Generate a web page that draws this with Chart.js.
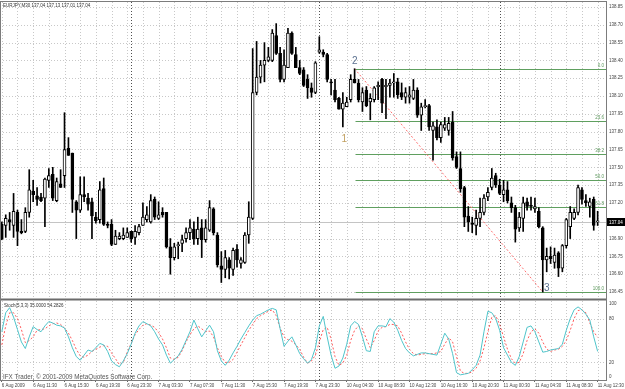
<!DOCTYPE html>
<html>
<head>
<meta charset="utf-8">
<script src="https://cdn.jsdelivr.net/npm/chart.js@4"></script>
<style>
  html, body { margin: 0; padding: 0; background: #fff; }
  #wrap { position: relative; width: 625px; height: 389px; overflow: hidden; }
  #price { position: absolute; left: 0; top: 0; }
  #stoch { position: absolute; left: 0; top: 298px; }
</style>
</head>
<body>
<div id="wrap">
  <canvas id="price" width="625" height="298"></canvas>
  <canvas id="stoch" width="625" height="91"></canvas>
</div>
<script>
// EURJPY M30 candles with a Fibonacci retracement and a Stochastic(5,3,3) pane.
// Bars are indexed 0..152 on a linear x axis so both panes line up.

const FONT = '"Liberation Sans", Arial, sans-serif';

const title = "EURJPY,M30 137.04 137.13 137.01 137.04";
const stochTitle = "Stoch(5,3,3) 35.0000 54.2826";
const copyright = "IFX Trader, \u00a9 2001-2009 MetaQuotes Software Corp.";

// x-axis labels, one every 8 bars
const timeLabels = [
  "6 Aug 2009", "6 Aug 11:30", "6 Aug 15:30", "6 Aug 19:30", "6 Aug 23:30",
  "7 Aug 03:30", "7 Aug 07:30", "7 Aug 11:30", "7 Aug 15:30", "7 Aug 19:30",
  "7 Aug 23:30", "10 Aug 04:30", "10 Aug 08:30", "10 Aug 12:30", "10 Aug 16:30",
  "10 Aug 20:30", "11 Aug 00:30", "11 Aug 04:30", "11 Aug 08:30", "11 Aug 12:30",
];

const opens = [
  137.02,137.01,137.06,137.01,137.12,136.96,136.96,137.12,137.30,137.26,
  137.25,137.24,137.39,137.44,137.22,137.36,137.43,137.66,137.62,137.21,
  137.14,137.27,137.24,137.21,137.08,137.06,137.32,137.02,137.02,136.85,
  136.90,136.90,136.91,136.96,136.91,136.95,137.01,137.06,137.04,137.23,
  137.07,137.12,137.12,136.83,136.74,136.84,136.86,136.90,136.95,136.98,
  136.90,136.99,136.89,136.97,137.15,136.93,136.67,136.64,136.72,136.64,
  136.81,136.69,136.70,136.93,137.07,138.13,138.26,138.36,138.40,138.40,
  138.61,138.46,138.24,138.34,138.63,138.45,138.34,138.32,138.24,138.17,
  138.13,138.47,138.47,138.45,138.22,138.15,138.08,137.99,138.01,138.07,
  138.24,138.21,138.05,138.15,138.05,138.07,138.18,138.24,138.18,138.19,
  138.21,138.22,138.13,138.09,138.09,138.08,138.15,137.94,138.01,138.02,
  137.81,137.84,137.75,137.83,137.81,137.88,137.59,137.49,137.33,137.09,
  137.03,137.01,137.07,137.12,137.25,137.33,137.43,137.35,137.27,137.31,
  137.20,137.16,136.99,137.07,137.21,137.18,137.15,137.13,136.99,136.72,
  136.75,136.70,136.78,136.65,136.84,137.00,137.07,137.12,137.31,137.22,
  137.17,137.23,137.04,
];
const highs = [
  137.04,137.10,137.12,137.28,137.14,137.06,137.16,137.48,137.39,137.33,
  137.28,137.41,137.49,137.50,137.41,137.48,137.96,137.75,137.62,137.22,
  137.42,137.42,137.28,137.24,137.12,137.38,137.41,137.04,137.06,136.97,
  136.95,136.99,136.99,136.96,137.01,137.02,137.20,137.17,137.27,137.25,
  137.21,137.16,137.12,136.90,136.86,136.87,136.93,136.99,137.06,137.04,
  137.08,137.06,137.06,137.22,137.16,136.95,136.79,136.80,136.74,136.82,
  136.85,136.74,136.95,137.21,138.50,138.56,138.40,138.55,138.51,138.66,
  138.71,138.51,138.49,138.67,138.64,138.51,138.40,138.34,138.28,138.21,
  138.39,138.60,138.49,138.46,138.24,138.24,138.09,138.13,138.09,138.28,
  138.33,138.24,138.17,138.18,138.12,138.18,138.22,138.25,138.24,138.24,
  138.29,138.25,138.21,138.17,138.18,138.24,138.17,138.04,138.07,138.03,
  137.88,137.90,137.88,137.92,137.92,137.97,137.63,137.63,137.34,137.17,
  137.08,137.14,137.24,137.27,137.33,137.49,137.45,137.40,137.39,137.38,
  137.25,137.18,137.12,137.25,137.24,137.25,137.24,137.16,137.00,136.82,
  136.83,136.82,136.79,136.85,137.07,137.17,137.15,137.35,137.33,137.27,
  137.24,137.25,137.13,
];
const lows = [
  136.89,136.91,136.97,136.91,136.84,136.94,136.95,137.08,137.21,137.18,
  137.21,137.00,137.33,137.22,137.21,137.33,137.33,137.60,137.12,136.90,
  137.12,137.21,137.14,136.90,137.03,137.03,137.01,136.99,136.84,136.85,
  136.89,136.89,136.91,136.87,136.85,136.93,137.01,137.04,137.03,137.06,
  137.06,137.08,136.82,136.60,136.72,136.73,136.79,136.87,136.89,136.85,
  136.85,136.74,136.87,136.96,136.93,136.66,136.53,136.57,136.56,136.59,
  136.66,136.65,136.69,136.86,137.06,138.11,138.21,138.22,138.39,138.39,
  138.45,138.22,138.22,138.34,138.45,138.34,138.28,138.18,138.08,138.09,
  138.12,138.46,138.43,138.22,138.11,138.05,137.99,137.84,138.01,138.05,
  138.21,138.05,137.97,138.01,137.90,138.05,138.07,137.96,137.91,138.09,
  138.09,138.08,138.07,138.04,138.04,138.07,137.92,137.81,138.00,137.81,
  137.56,137.73,137.71,137.81,137.77,137.56,137.49,137.29,137.00,136.96,
  136.95,136.93,137.00,137.10,137.22,137.31,137.33,137.27,137.21,137.20,
  137.12,136.87,136.96,136.96,137.14,137.14,137.12,136.99,136.45,136.62,
  136.69,136.65,136.58,136.62,136.82,136.90,137.06,137.10,137.19,137.17,
  137.08,136.97,137.01,
];
const closes = [
  136.90,137.07,137.04,137.13,136.96,136.95,137.12,137.31,137.27,137.23,
  137.22,137.40,137.43,137.24,137.38,137.33,137.65,137.60,137.23,137.14,
  137.27,137.25,137.19,137.09,137.05,137.31,137.02,137.01,136.85,136.92,
  136.92,136.93,136.95,136.90,136.96,137.00,137.08,137.10,137.22,137.08,
  137.10,137.10,136.83,136.74,136.83,136.85,136.89,136.95,136.99,136.90,
  136.98,136.89,136.99,137.16,136.95,136.68,136.64,136.74,136.65,136.80,
  136.72,136.72,136.93,137.08,138.13,138.26,138.36,138.40,138.43,138.63,
  138.46,138.24,138.36,138.63,138.46,138.34,138.29,138.19,138.17,138.13,
  138.38,138.49,138.45,138.24,138.21,138.07,137.99,138.04,138.05,138.24,
  138.21,138.07,138.13,138.02,138.08,138.17,138.19,138.04,138.19,138.21,
  138.22,138.11,138.09,138.13,138.11,138.15,137.94,138.01,138.02,137.84,
  137.85,137.75,137.86,137.86,137.87,137.58,137.50,137.32,137.08,137.04,
  137.02,137.07,137.12,137.24,137.29,137.41,137.35,137.28,137.31,137.22,
  137.16,136.98,137.08,137.20,137.17,137.17,137.17,137.00,136.72,136.75,
  136.73,136.76,136.65,136.84,137.06,137.12,137.12,137.33,137.23,137.20,
  137.21,137.01,137.04,
];

// Stochastic %K (main) and %D (signal)
const stochK = [
  62,88,95,82,65,48,39,55,69,65, 62,70,76,74,71,70,67,55,40,28,
  23,30,37,35,40,46,44,35,22,17, 14,22,32,45,60,70,76,73,70,62,
  52,44,30,19,24,29,38,50,62,78, 66,55,63,71,62,36,22,16,23,33,
  42,52,61,70,78,84,86,89,92,94, 92,66,42,49,55,44,32,25,19,24,
  40,70,83,55,30,12,15,26,45,70, 76,72,55,36,35,62,70,70,69,80,
  75,64,50,39,33,29,31,33,33,32, 31,30,45,60,52,32,6,3,4,5,
  10,16,30,62,90,88,80,64,40,30, 20,16,28,48,68,70,62,48,34,35,
  37,38,39,45,64,80,92,96,92,86, 78,55,35,
];
const stochD = [
  44,70,88,88,80,65,47,50,55,64, 65,66,70,73,74,72,67,60,50,38,
  29,27,30,35,38,41,43,42,33,25, 17,20,34,46,58,65,71,73,71,68,
  61,52,40,26,24,27,36,48,58,66, 70,66,62,63,55,40,28,20,20,24,
  34,44,54,64,72,80,84,87,90,92, 84,67,55,51,49,44,38,27,19,22,
  30,48,65,68,52,28,16,19,30,50, 64,70,66,52,40,50,63,68,69,72,
  72,70,60,48,38,32,30,31,32,32, 32,33,35,45,54,48,28,8,5,5,
  7,12,22,40,62,82,84,72,55,38, 25,19,20,32,50,62,66,60,48,38,
  35,37,38,42,50,64,80,91,92,88, 74,62,54.28,
];

const priceTicks = [136.45, 136.60, 136.75, 136.90, 137.20, 137.35, 137.50, 137.65,
  137.80, 137.95, 138.10, 138.25, 138.40, 138.55, 138.70, 138.85];
const stochTicks = [0, 20, 80, 100];
const stochGrid = [20, 80];
const separatorBars = [33, 81, 127];

const fibRatios = ["0.0", "23.6", "38.2", "50.0", "61.8", "100.0"];
const fibPrices = [138.33, 137.886, 137.612, 137.39, 137.168, 136.45];
const fibStartBar = 90;
const trendBars = [90, 138];
const trendPrices = [138.33, 136.45];
const waveLabels = ["1", "2", "3"];
const waveBars = [87, 90, 138];
const wavePrices = [137.84, 138.33, 136.45];
const lastPrice = 137.04;

const X_MIN = -0.46, X_MAX = 154.13;
const bars = opens.map((_, i) => i);

// dotted MT4 grid, day separators, price line and fibo levels, under the candles
const mt4Grid = {
  id: "mt4Grid",
  beforeDatasetsDraw(chart, args, opts) {
    const { ctx, chartArea: a, scales: { x, y } } = chart;
    const snap = (v) => Math.round(v) + 0.5;
    ctx.save();
    ctx.lineWidth = 1;
    ctx.strokeStyle = "#c8c8c8";
    ctx.setLineDash([1, 2]);
    ctx.beginPath();
    for (let b = 0; b <= 152; b += 4) {
      const px = snap(x.getPixelForValue(b));
      ctx.moveTo(px, a.top); ctx.lineTo(px, a.bottom);
    }
    opts.levels.forEach((v) => {
      const py = snap(y.getPixelForValue(v));
      ctx.moveTo(a.left, py); ctx.lineTo(a.right, py);
    });
    ctx.stroke();
    ctx.strokeStyle = "#505050";
    ctx.beginPath();
    separatorBars.forEach((b) => {
      const px = snap(x.getPixelForValue(b));
      ctx.moveTo(px, a.top); ctx.lineTo(px, a.bottom);
    });
    ctx.stroke();
    ctx.setLineDash([]);
    if (opts.fibo) {
      ctx.strokeStyle = "#c4c4c4";
      ctx.beginPath();
      const lp = snap(y.getPixelForValue(lastPrice));
      ctx.moveTo(a.left, lp); ctx.lineTo(a.right, lp);
      ctx.stroke();
      ctx.strokeStyle = "#5f9f5f";
      ctx.beginPath();
      const x0 = snap(x.getPixelForValue(fibStartBar));
      fibPrices.forEach((p) => {
        const py = snap(y.getPixelForValue(p));
        ctx.moveTo(x0, py); ctx.lineTo(a.right, py);
      });
      ctx.stroke();
    }
    ctx.restore();
  },
};

const priceOverlay = {
  id: "priceOverlay",
  afterDraw(chart) {
    const { ctx, chartArea: a, scales: { x, y } } = chart;
    ctx.save();
    ctx.strokeStyle = "#7c7c7c";
    ctx.lineWidth = 1;
    ctx.beginPath();
    ctx.moveTo(0, 1.5); ctx.lineTo(a.right + 1, 1.5);
    ctx.moveTo(0.5, 1); ctx.lineTo(0.5, chart.height);
    ctx.moveTo(a.right + 0.5, 1); ctx.lineTo(a.right + 0.5, chart.height);
    ctx.stroke();

    ctx.font = `4.5px ${FONT}`;
    ctx.fillStyle = "#333";
    ctx.fillText(title, 3, 7);

    ctx.textAlign = "right";
    ctx.fillStyle = "#5c985c";
    fibPrices.forEach((p, k) => ctx.fillText(fibRatios[k], a.right - 2, y.getPixelForValue(p) - 2));

    // wave labels: offsets (px) from the bar/price they mark
    const offs = [[-1.3, 15], [-2.6, -5], [1.2, -1]];
    const cols = ["#c2a060", "#5b7190", "#5b7190"];
    ctx.textAlign = "left";
    ctx.font = `10px ${FONT}`;
    waveLabels.forEach((t, k) => {
      ctx.fillStyle = cols[k];
      ctx.fillText(t, x.getPixelForValue(waveBars[k]) + offs[k][0], y.getPixelForValue(wavePrices[k]) + offs[k][1]);
    });

    const py = Math.round(y.getPixelForValue(lastPrice));
    ctx.fillStyle = "#000";
    ctx.fillRect(a.right + 1, py - 4, 19, 8);
    ctx.fillStyle = "#fff";
    ctx.font = `4.5px ${FONT}`;
    ctx.fillText(lastPrice.toFixed(2), a.right + 3, py + 2);
    ctx.restore();
  },
};

const stochOverlay = {
  id: "stochOverlay",
  afterDraw(chart) {
    const { ctx, chartArea: a } = chart;
    ctx.save();
    ctx.fillStyle = "#6c6c6c";
    ctx.fillRect(0, 0.5, a.right + 1, 2);
    ctx.strokeStyle = "#7c7c7c";
    ctx.lineWidth = 1;
    ctx.beginPath();
    ctx.moveTo(0.5, 0); ctx.lineTo(0.5, a.bottom);
    ctx.moveTo(a.right + 0.5, 0); ctx.lineTo(a.right + 0.5, a.bottom + 1);
    ctx.moveTo(0, a.bottom + 0.5); ctx.lineTo(a.right + 1, a.bottom + 0.5);
    ctx.stroke();
    ctx.font = `4.5px ${FONT}`;
    ctx.fillStyle = "#333";
    ctx.fillText(stochTitle, 4, 9);
    ctx.font = `6.3px ${FONT}`;
    ctx.fillStyle = "#555";
    ctx.fillText(copyright, 3, 81);
    ctx.restore();
  },
};

const tickFont = { family: FONT, size: 4.5 };
const flat = (s) => { s.paddingLeft = 0; s.paddingRight = 0; s.paddingTop = 0; s.paddingBottom = 0; };

new Chart(document.getElementById("price"), {
  type: "bar",
  data: {
    datasets: [
      {
        data: bars.map((i) => ({ x: i, y: [opens[i], closes[i]] })),
        barThickness: 3, grouped: false, minBarLength: 1,
        borderWidth: 1, borderColor: "#000", borderSkipped: false,
        backgroundColor: (c) => (closes[c.dataIndex] >= opens[c.dataIndex] ? "#fff" : "#000"),
      },
      {
        data: bars.map((i) => ({ x: i, y: [lows[i], highs[i]] })),
        barThickness: 1, grouped: false, borderWidth: 0, backgroundColor: "#000",
      },
      {
        type: "line",
        data: trendBars.map((b, k) => ({ x: b, y: trendPrices[k] })),
        borderColor: "#ff7070", borderWidth: 1, borderDash: [2, 2], pointRadius: 0,
      },
    ],
  },
  options: {
    responsive: false,
    animation: false,
    devicePixelRatio: 1,
    layout: { padding: { top: 2, bottom: 1, left: 0, right: 0 } },
    plugins: { legend: { display: false }, tooltip: { enabled: false }, mt4Grid: { levels: priceTicks, fibo: true } },
    scales: {
      x: { type: "linear", min: X_MIN, max: X_MAX, offset: false, display: false },
      y: {
        type: "linear", position: "right", min: 136.408, max: 138.892,
        afterBuildTicks: (s) => { s.ticks = priceTicks.map((v) => ({ value: v })); },
        afterFit: (s) => { s.width = 19; flat(s); },
        ticks: { callback: (v) => v.toFixed(2), font: tickFont, color: "#444", padding: 3, autoSkip: false },
        grid: { display: false, drawTicks: false },
        border: { display: false },
      },
    },
  },
  plugins: [mt4Grid, priceOverlay],
});

new Chart(document.getElementById("stoch"), {
  type: "line",
  data: {
    datasets: [
      {
        data: bars.map((i) => ({ x: i, y: stochK[i] })),
        borderColor: "#4fc4ca", borderWidth: 1, pointRadius: 0, tension: 0,
      },
      {
        data: bars.map((i) => ({ x: i, y: stochD[i] })),
        borderColor: "#ff5a5a", borderWidth: 1, borderDash: [2, 2], pointRadius: 0, tension: 0,
      },
    ],
  },
  options: {
    responsive: false,
    animation: false,
    devicePixelRatio: 1,
    layout: { padding: { top: 3, bottom: 0, left: 0, right: 0 } },
    plugins: { legend: { display: false }, tooltip: { enabled: false }, mt4Grid: { levels: stochGrid, fibo: false } },
    scales: {
      x: {
        type: "linear", min: X_MIN, max: X_MAX, offset: false,
        afterBuildTicks: (s) => { s.ticks = timeLabels.map((_, k) => ({ value: k * 8 })); },
        afterFit: (s) => { s.height = 9; flat(s); },
        ticks: {
          callback: (v) => timeLabels[Math.round(v / 8)], align: "start",
          font: tickFont, color: "#444", padding: 1, autoSkip: false, maxRotation: 0, minRotation: 0,
        },
        grid: { display: true, drawOnChartArea: false, drawTicks: true, tickLength: 2, color: "#666" },
        border: { display: false },
      },
      y: {
        type: "linear", position: "right", min: -4.1, max: 104.1,
        afterBuildTicks: (s) => { s.ticks = stochTicks.map((v) => ({ value: v })); },
        afterFit: (s) => { s.width = 19; flat(s); },
        ticks: { font: tickFont, color: "#444", padding: 3, autoSkip: false },
        grid: { display: false, drawTicks: false },
        border: { display: false },
      },
    },
  },
  plugins: [mt4Grid, stochOverlay],
});
</script>
</body>
</html>
